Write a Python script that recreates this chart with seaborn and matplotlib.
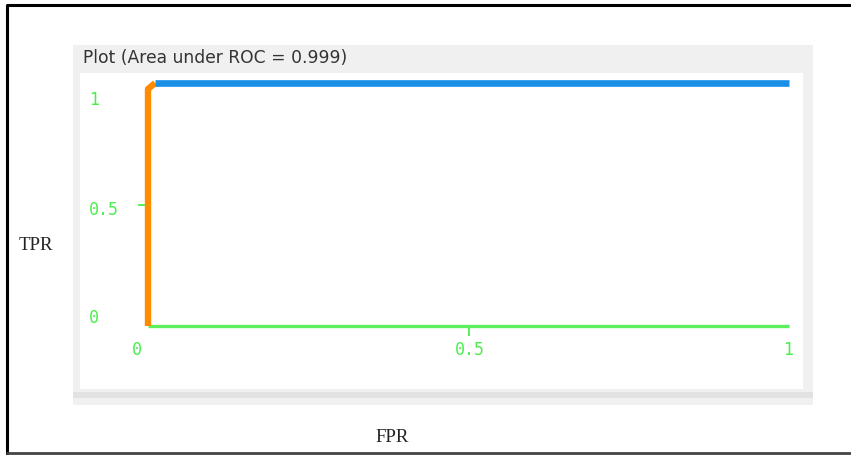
import matplotlib.pyplot as plt
import seaborn as sns
import pandas as pd
from matplotlib.patches import Rectangle
from matplotlib.lines import Line2D

# ROC data
fpr_start = [0.0, 0.0, 0.011]
tpr_start = [0.0, 0.975, 1.0]
fpr_rest = [0.011, 1.0]
tpr_rest = [1.0, 1.0]
fpr_base = [0.0, 1.0]
tpr_base = [0.0, 0.0]
tick_values = [0, 0.5, 1]
tick_labels = ["0", "0.5", "1"]
auc_value = 0.999

W, H = 851, 455
sns.set_style("white")
fig = plt.figure(figsize=(W / 100, H / 100), dpi=100)
fig.patch.set_facecolor("white")


def px_rect(x0, y0, x1, y1, z=-5, **kw):
    # pixel rect (top-left origin) -> figure fraction
    fig.add_artist(Rectangle((x0 / W, 1 - y1 / H), (x1 - x0) / W, (y1 - y0) / H,
                             transform=fig.transFigure, zorder=z, **kw))


def px_line(xs, ys, **kw):
    fig.add_artist(Line2D([x / W for x in xs], [1 - y / H for y in ys],
                          transform=fig.transFigure, zorder=10, **kw))


# outer frame (open on the right)
px_line([7, 7, 851], [454, 5, 5], color="black", lw=2.2)
px_line([7, 851], [453, 453], color="#444444", lw=2.0)

# group box panel
px_rect(73, 45, 813, 405, facecolor="#f0f0f0", edgecolor="none")
px_rect(73, 392, 813, 398, facecolor="#e2e2e2", edgecolor="none")
px_rect(80, 73, 803, 389, facecolor="white", edgecolor="none")
fig.text(83 / W, 1 - 58 / H, f"Plot (Area under ROC = {auc_value})",
         fontsize=12.3, color="#333333", va="center", ha="left",
         family="DejaVu Sans")

# plot axes: data 0..1 -> pixels
x0p, x1p, y0p, y1p = 148, 789, 326, 83
ax = fig.add_axes([x0p / W, 1 - y0p / H, (x1p - x0p) / W, (y0p - y1p) / H])
ax.set_zorder(5)
ax.set_facecolor("none")
ax.set_xlim(0, 1)
ax.set_ylim(0, 1)
for s in ax.spines.values():
    s.set_visible(False)

green = "#4cee4c"
sns.lineplot(x=fpr_base, y=tpr_base, color="#5cf05c", linewidth=2.4, sort=False,
             estimator=None, ax=ax)
sns.lineplot(x=fpr_start, y=tpr_start, color="#ff8c00", linewidth=4.6, sort=False,
             estimator=None, ax=ax)
sns.lineplot(x=fpr_rest, y=tpr_rest, color="#1a8fe6", linewidth=4.8, sort=False,
             estimator=None, ax=ax)
for ln in ax.lines:
    ln.set_clip_on(False)
    ln.set_solid_capstyle("butt")

ax.set_xticks([0.5])
ax.set_yticks([0.5])
ax.set_xticklabels([])
ax.set_yticklabels([])
ax.tick_params(axis="both", direction="out", color=green, width=1.3, length=7,
               bottom=True, left=True)

# tick labels (placed like the original widget)
ylab_pos = [0.033, 0.477, 0.93]
for v, lab in zip(ylab_pos, tick_labels):
    ax.text(-0.092, v, lab, color=green, fontsize=12, family="DejaVu Sans Mono",
            ha="left", va="center", clip_on=False)
xlab_pos = [-0.017, 0.502, 0.998]
for v, lab in zip(xlab_pos, tick_labels):
    ax.text(v, -0.099, lab, color=green, fontsize=12, family="DejaVu Sans Mono",
            ha="center", va="center", clip_on=False)

fig.text(36 / W, 1 - 246 / H, "TPR", fontsize=13.5, family="Liberation Serif",
         ha="center", va="center", color="#222222",
         bbox=dict(facecolor="white", edgecolor="none", pad=8))
fig.text(392 / W, 1 - 437 / H, "FPR", fontsize=13.5, family="Liberation Serif",
         ha="center", va="center", color="#222222")

plt.savefig("out.png", dpi=100)
